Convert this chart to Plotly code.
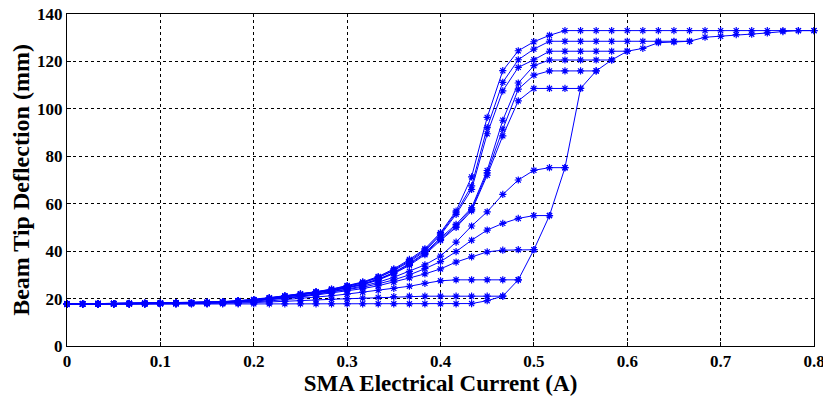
import plotly.graph_objects as go

# SMA current steps (A)
CURRENT = [0.0, 0.0167, 0.0333, 0.05, 0.0667, 0.0833, 0.1, 0.1167, 0.1333, 0.15,
           0.1667, 0.1833, 0.2, 0.2167, 0.2333, 0.25, 0.2667, 0.2833, 0.3, 0.3167,
           0.3333, 0.35, 0.3667, 0.3833, 0.4, 0.4167, 0.4333, 0.45, 0.4667, 0.4833,
           0.5, 0.5167, 0.5333, 0.55, 0.5667, 0.5833, 0.6, 0.6167, 0.6333, 0.65,
           0.6667, 0.6833, 0.7, 0.7167, 0.7333, 0.75, 0.7667, 0.7833, 0.8]

# Heating (major) branch
heating = [17.6, 17.6, 17.7, 17.7, 17.7, 17.7, 17.8, 17.8, 17.8, 17.8, 17.8, 17.8, 17.8,
           17.8, 17.8, 17.8, 17.8, 17.8, 17.8, 17.8, 17.8, 17.8, 17.8, 17.8, 17.8, 17.8, 17.9,
           19.1, 21.0, 27.9, 40.6, 55.0, 75.2, 108.6, 116.0, 120.6, 124.3, 125.5, 127.9,
           128.2, 128.5, 130.2, 130.6, 131.3, 131.5, 132.0, 132.6, 133.0, 133.0]

# Cooling branches (values from 0 A up to the turning current)
cool_21 = [17.6, 17.7, 17.7, 17.7, 17.8, 17.8, 17.8, 17.8, 17.9, 17.9, 18.0, 18.1, 18.3,
           18.5, 18.8, 19.1, 19.4, 19.7, 19.9, 20.2, 20.5, 20.8,
           21.0, 21.0, 21.0, 21.0, 21.0, 21.0, 21.0]
cool_28 = [17.6, 17.7, 17.7, 17.8, 17.8, 17.8, 17.9, 17.9, 18.0, 18.0, 18.1, 18.3, 18.6,
           19.0, 19.5, 20.0, 20.6, 21.2, 21.9, 22.7, 23.5, 24.3, 25.2, 26.4, 27.5,
           27.9, 27.9, 27.9, 27.9, 27.9]
cool_40 = [17.6, 17.7, 17.8, 17.8, 17.8, 17.9, 17.9, 18.0, 18.0, 18.1, 18.3, 18.6, 18.9,
           19.4, 20.0, 20.7, 21.5, 22.3, 23.2, 24.2, 25.4, 26.9, 28.7, 30.4, 32.5, 35.4,
           37.6, 39.7, 40.4, 40.6, 40.6]
cool_55 = [17.7, 17.7, 17.8, 17.8, 17.9, 17.9, 17.9, 18.0, 18.1, 18.2, 18.4, 18.7, 19.1,
           19.6, 20.2, 20.9, 21.8, 22.7, 23.7, 24.8, 26.2, 27.9, 30.0, 32.6, 35.6, 39.8,
           44.6, 48.9, 51.7, 53.8, 55.0, 55.0]
cool_75 = [17.7, 17.7, 17.8, 17.8, 17.9, 17.9, 18.0, 18.0, 18.1, 18.2, 18.4, 18.8, 19.2,
           19.7, 20.3, 21.0, 21.9, 22.9, 24.0, 25.3, 26.9, 29.0, 31.5, 34.2, 37.9, 43.8,
           50.6, 56.6, 63.9, 70.0, 74.1, 75.2, 75.2]
cool_108 = [17.7, 17.8, 17.8, 17.9, 17.9, 18.0, 18.0, 18.1, 18.2, 18.3, 18.5, 18.9, 19.3,
            19.9, 20.6, 21.4, 22.3, 23.3, 24.5, 25.8, 27.8, 30.5, 34.0, 38.5, 44.5, 50.0,
            57.0, 72.0, 88.6, 103.4, 108.6, 108.6, 108.6, 108.6]
cool_116 = [17.7, 17.8, 17.8, 17.9, 17.9, 18.0, 18.0, 18.1, 18.2, 18.3, 18.5, 18.9, 19.3,
            20.0, 20.7, 21.5, 22.4, 23.4, 24.6, 26.0, 28.0, 30.8, 34.4, 39.0, 45.0, 50.6,
            57.6, 73.0, 91.4, 108.3, 114.2, 116.0, 116.0, 116.0, 116.0]
cool_121 = [17.7, 17.8, 17.8, 17.9, 17.9, 18.0, 18.1, 18.1, 18.2, 18.3, 18.6, 19.0, 19.4,
            20.1, 20.8, 21.6, 22.5, 23.5, 24.8, 26.2, 28.2, 31.0, 34.8, 39.3, 45.6, 51.3,
            58.3, 74.0, 95.2, 110.9, 118.2, 120.6, 120.6, 120.6, 120.6, 120.6]
cool_124 = [17.7, 17.8, 17.8, 17.9, 17.9, 18.0, 18.1, 18.1, 18.2, 18.4, 18.6, 19.0, 19.4,
            20.2, 21.0, 21.8, 22.7, 23.7, 25.1, 26.6, 28.8, 31.8, 35.5, 40.0, 46.8, 55.5,
            66.0, 89.5, 107.6, 117.5, 120.7, 124.3, 124.3, 124.3, 124.3, 124.3, 124.3]
cool_128 = [17.8, 17.8, 17.9, 17.9, 18.0, 18.0, 18.1, 18.2, 18.3, 18.4, 18.7, 19.1, 19.5,
            20.3, 21.1, 21.9, 22.8, 23.9, 25.3, 26.8, 29.0, 32.1, 36.0, 40.5, 47.3, 56.2,
            67.5, 92.1, 111.2, 120.7, 125.2, 128.5, 128.5, 128.5, 128.5, 128.5, 128.5,
            128.5, 128.5, 128.5, 128.5]
cool_133 = [17.8, 17.8, 17.9, 17.9, 18.0, 18.0, 18.1, 18.2, 18.3, 18.5, 18.7, 19.1, 19.6,
            20.4, 21.2, 22.0, 22.9, 24.0, 25.5, 27.0, 29.3, 32.5, 36.5, 41.0, 47.8, 56.9,
            71.3, 96.4, 116.1, 124.5, 128.3, 131.0, 133.0, 133.0, 133.0, 133.0, 133.0,
            133.0, 133.0, 133.0, 133.0, 133.0, 133.0, 133.0, 133.0, 133.0, 133.0, 133.0, 133.0]

X_TICKS = [0, 0.1, 0.2, 0.3, 0.4, 0.5, 0.6, 0.7, 0.8]
X_TICK_TEXT = ["0", "0.1", "0.2", "0.3", "0.4", "0.5", "0.6", "0.7", "0.8"]
Y_TICKS = [0, 20, 40, 60, 80, 100, 120, 140]

series = [heating, cool_21, cool_28, cool_40, cool_55, cool_75, cool_108,
          cool_116, cool_121, cool_124, cool_128, cool_133]

BLUE = "#0000ff"
fig = go.Figure()
for ys in series:
    xs = CURRENT[:len(ys)]
    fig.add_trace(go.Scatter(
        x=xs, y=ys, mode="lines+markers",
        line=dict(color=BLUE, width=1),
        marker=dict(symbol="asterisk-open", size=6, color=BLUE,
                    line=dict(color=BLUE, width=1.2)),
        showlegend=False, hoverinfo="skip", cliponaxis=False))

tick_font = dict(family="Liberation Serif", size=17, color="black", weight="bold")

axis_common = dict(
    showline=True, linecolor="black", linewidth=1, mirror=True,
    showgrid=True, gridcolor="black", gridwidth=1, griddash="3px,3px",
    zeroline=False, ticks="inside", ticklen=4, tickcolor="black",
    tickfont=tick_font, automargin=False, ticklabeloverflow="allow",
)

fig.update_xaxes(range=[0, 0.8], tickvals=X_TICKS, ticktext=X_TICK_TEXT,
                 title=dict(text="SMA Electrical Current (A)",
                            font=dict(family="Liberation Serif", size=23, color="black", weight="bold"),
                            standoff=2),
                 **axis_common)
fig.update_yaxes(range=[0, 140], tickvals=Y_TICKS,
                 title=dict(text="Beam Tip Deflection (mm)",
                            font=dict(family="Liberation Serif", size=24, color="black", weight="bold"),
                            standoff=4),
                 **axis_common)

# page body has an 8px margin, so the figure is sized/offset to land the
# plot box at the reference position
fig.update_layout(
    width=823, height=391,
    margin=dict(l=59, r=17, t=6, b=53),
    paper_bgcolor="white", plot_bgcolor="white",
)

fig.write_html("out.html")
